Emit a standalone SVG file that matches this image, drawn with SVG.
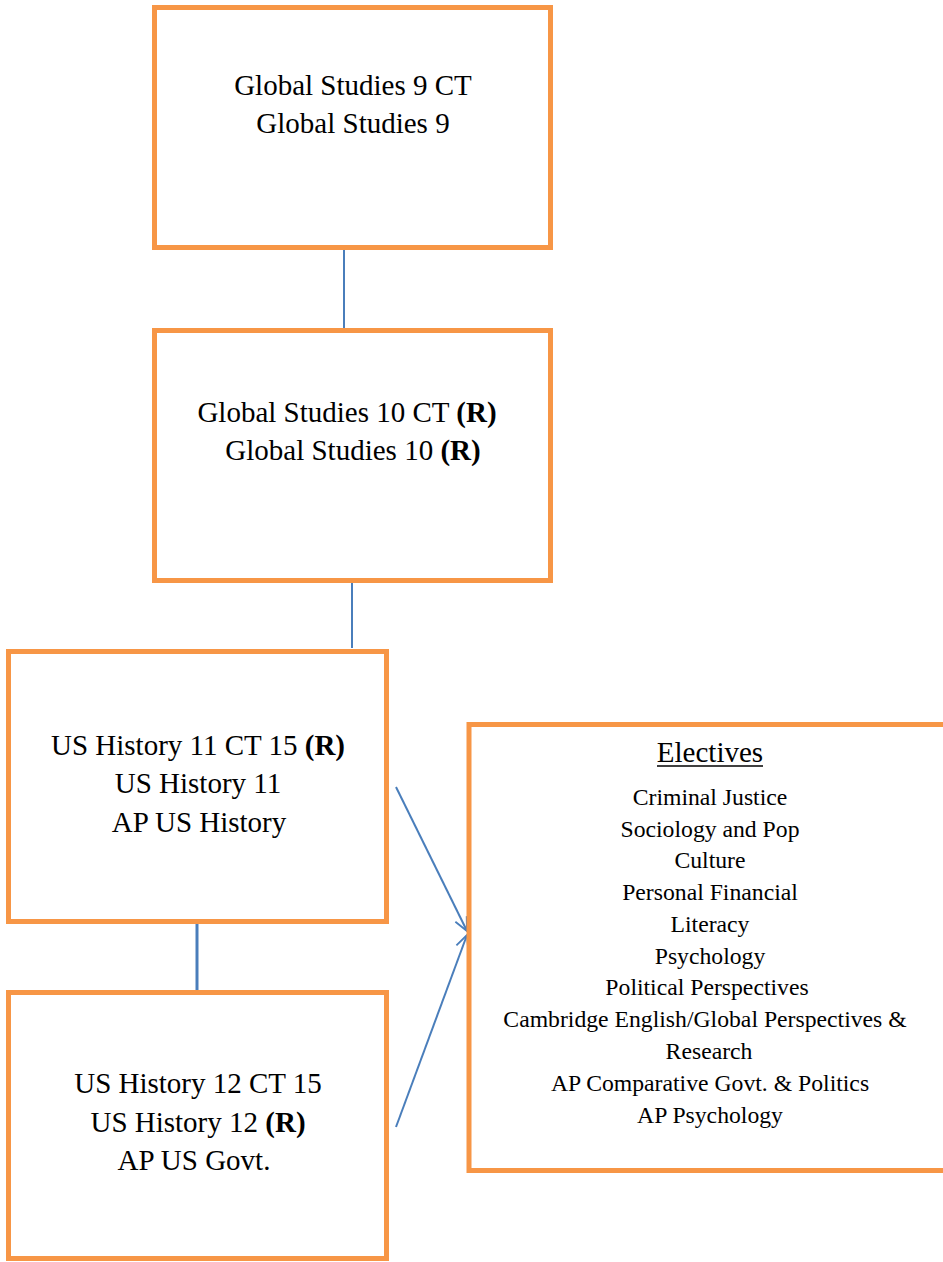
<svg xmlns="http://www.w3.org/2000/svg" width="943" height="1262" viewBox="0 0 943 1262">
<style>
.box{fill:#fff;stroke:#F79646;stroke-width:5}
.t{font-family:"Liberation Serif","Times New Roman",serif;font-size:29px;fill:#000;text-anchor:middle}
.e{font-family:"Liberation Serif","Times New Roman",serif;font-size:23.7px;fill:#000;text-anchor:middle}
.b{font-weight:bold}
.c{stroke:#4A7EBB;stroke-width:2;fill:none}
</style>
<defs>
<marker id="arr" viewBox="0 0 20 20" refX="18" refY="10" markerWidth="18" markerHeight="18" markerUnits="userSpaceOnUse" orient="auto">
<path d="M3,3 L18,10 L3,17" fill="none" stroke="#4A7EBB" stroke-width="2"/>
</marker>
</defs>
<rect width="943" height="1262" fill="#fff"/>
<g id="connectors">
<line class="c" x1="344" y1="250" x2="344" y2="328"/>
<line class="c" x1="352" y1="577" x2="352" y2="648"/>
<line class="c" x1="197" y1="924" x2="197" y2="990" style="stroke-width:3"/>
<line class="c" x1="396" y1="787" x2="467" y2="931" marker-end="url(#arr)"/>
<line class="c" x1="396" y1="1127" x2="467" y2="935" marker-end="url(#arr)"/>
</g>
<g id="gs9">
<rect class="box" x="154.5" y="7.5" width="396" height="240"/>
<text class="t" x="353" y="95">Global Studies 9 CT</text>
<text class="t" x="353" y="133">Global Studies 9</text>
</g>
<g id="gs10">
<rect class="box" x="154.5" y="330.5" width="396" height="250"/>
<text class="t" x="347" y="422">Global Studies 10 CT <tspan class="b">(R)</tspan></text>
<text class="t" x="353" y="460">Global Studies 10 <tspan class="b">(R)</tspan></text>
</g>
<g id="ush11">
<rect class="box" x="8.5" y="651.5" width="378" height="270"/>
<text class="t" x="198" y="755">US History 11 CT 15 <tspan class="b">(R)</tspan></text>
<text class="t" x="198" y="793">US History 11</text>
<text class="t" x="199" y="832">AP US History</text>
</g>
<g id="ush12">
<rect class="box" x="8.5" y="992.5" width="378" height="266"/>
<text class="t" x="198" y="1093">US History 12 CT 15</text>
<text class="t" x="198" y="1132">US History 12 <tspan class="b">(R)</tspan></text>
<text class="t" x="194" y="1170">AP US Govt.</text>
</g>
<g id="electives">
<rect class="box" x="469" y="724.5" width="490" height="446"/>
<text class="t" x="710" y="762">Electives</text>
<line x1="657" y1="766" x2="763" y2="766" stroke="#000" stroke-width="1.5"/>
<text class="e" x="710" y="805">Criminal Justice</text>
<text class="e" x="710" y="837">Sociology and Pop</text>
<text class="e" x="710" y="868">Culture</text>
<text class="e" x="710" y="900">Personal Financial</text>
<text class="e" x="710" y="932">Literacy</text>
<text class="e" x="710" y="964">Psychology</text>
<text class="e" x="707" y="995">Political Perspectives</text>
<text class="e" x="705" y="1027">Cambridge English/Global Perspectives &amp;</text>
<text class="e" x="709" y="1059">Research</text>
<text class="e" x="710" y="1091">AP Comparative Govt. &amp; Politics</text>
<text class="e" x="710" y="1123">AP Psychology</text>
</g>
</svg>
